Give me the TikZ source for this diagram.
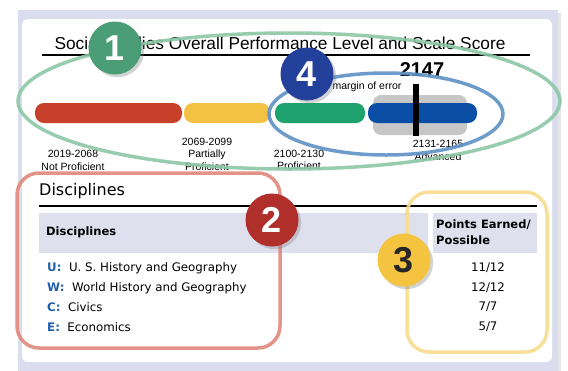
\documentclass[tikz,border=0pt]{standalone}
\usepackage{fontspec}
\setmainfont{Liberation Sans}
\newfontfamily\verd{DejaVu Sans}
\usetikzlibrary{shadows}
\definecolor{panellav}{HTML}{DADDEE}
\definecolor{headlav}{HTML}{DEE0EE}
\definecolor{redbar}{HTML}{C9402A}
\definecolor{yellowbar}{HTML}{F3C244}
\definecolor{greenbar}{HTML}{1FA26E}
\definecolor{bluebar}{HTML}{0B4EA5}
\definecolor{letblue}{HTML}{1F5FAD}
\definecolor{ringgreen}{HTML}{8CC7A6}
\definecolor{ringblue}{HTML}{5E92C6}
\definecolor{ringred}{HTML}{E0887A}
\definecolor{ringyellow}{HTML}{F8DC8E}
\definecolor{badgegreen}{HTML}{4A9D74}
\definecolor{badgeblue}{HTML}{23409A}
\definecolor{badgered}{HTML}{B12F2A}
\definecolor{badgeyellow}{HTML}{F4C340}

\begin{document}
\begin{tikzpicture}[x=1pt,y=-1pt]
\tikzstyle{every node}+=[inner sep=0pt]
\tikzstyle{bar}=[rounded corners=9pt]
\tikzstyle{rng}=[align=center,font=\fontsize{10.5}{12.5}\selectfont]
\tikzstyle{row}=[anchor=west,font=\verd\fontsize{11.8}{13}\selectfont]
\tikzstyle{val}=[font=\verd\fontsize{11.8}{13}\selectfont]
\tikzstyle{badge}=[circle,minimum size=53pt,drop shadow={opacity=0.35},font=\fontsize{36}{36}\bfseries\selectfont]
\tikzstyle{ring}=[line width=3.5pt,opacity=0.9]
\useasboundingbox (0,0) rectangle (568,370);
\fill [white] (0,0) rectangle (568,370);
\fill [panellav,drop shadow={opacity=0.2}] (18,10) rectangle (558,375);
\fill [white,rounded corners=6pt] (22,19) rectangle (552,362);
\draw (280,43) node (title) [font=\fontsize{17.3}{18}\selectfont] {Social Studies Overall Performance Level and Scale Score};
\draw [line width=2.5pt] (42,55) -- (530,55);
\fill [redbar,bar] (35,103) rectangle (182,123);
\fill [yellowbar,bar] (184,103) rectangle (270,123);
\fill [greenbar,bar] (275,103) rectangle (365,123);
\fill [black!22,rounded corners=8pt] (373,95) rectangle (467,135);
\fill [bluebar,bar] (368,103) rectangle (477,123);
\fill [black] (413,84) rectangle (419,136);
\draw (422,70) node (score) [font=\fontsize{20}{20}\bfseries\selectfont] {2147};
\draw (367,87) node (moe) [font=\fontsize{10.5}{12}\selectfont] {margin of error};
\draw (73,160.5) node (notprof) [rng] {2019-2068\\Not Proficient};
\draw (207,154) node (partprof) [rng] {2069-2099\\Partially\\Proficient};
\draw (299,160) node (prof) [rng] {2100-2130\\Proficient};
\draw (438,150.5) node (adv) [rng] {2131-2165\\Advanced};
\draw (39,191) node (disc) [anchor=west,font=\verd\fontsize{16}{16}\selectfont] {Disciplines};
\draw [line width=2.5pt] (39,206) -- (537,206);
\fill [headlav] (39,213) rectangle (428,253);
\fill [headlav] (433,213) rectangle (537,253);
\draw (46,232) node (dischead) [anchor=west,font=\verd\fontsize{11.5}{13}\bfseries\selectfont] {Disciplines};
\draw (436,232) node (pointshead) [anchor=west,align=left,font=\verd\fontsize{11.5}{16}\bfseries\selectfont] {Points Earned/\\Possible};
\draw (47,268) node (rowu) [row] {\textbf{\color{letblue}U:}\ \ U. S. History and Geography};
\draw (47,288) node (roww) [row] {\textbf{\color{letblue}W:}\ \ World History and Geography};
\draw (47,307) node (rowc) [row] {\textbf{\color{letblue}C:}\ \ Civics};
\draw (47,327) node (rowe) [row] {\textbf{\color{letblue}E:}\ \ Economics};
\draw (488,268) node (valu) [val] {11/12};
\draw (488,288) node (valw) [val] {12/12};
\draw (488,307) node (valc) [val] {7/7};
\draw (488,327) node (vale) [val] {5/7};
\draw [ringgreen,ring] (289,101) ellipse (271 and 68);
\draw [ringblue,ring] (386,114) ellipse (117 and 41);
\draw [ringred,ring,rounded corners=22pt] (17,173) rectangle (280,348);
\draw [ringyellow,ring,rounded corners=22pt] (407,192) rectangle (547,352);
\draw (115,48) node (one) [badge,fill=badgegreen,text=white] {1};
\draw (307,74) node (four) [badge,fill=badgeblue,text=white] {4};
\draw (272,220) node (two) [badge,fill=badgered,text=white] {2};
\draw (404,260) node (three) [badge,fill=badgeyellow,text=black!85] {3};
\end{tikzpicture}
\end{document}
